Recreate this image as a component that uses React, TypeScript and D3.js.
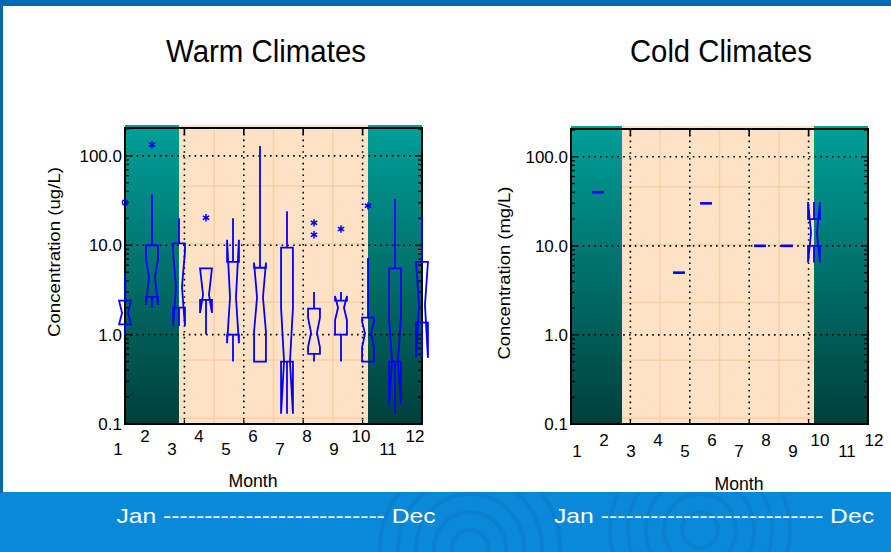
import React from 'react';
import * as d3 from 'd3';

// ---------- DATA ----------
const MONTHS = [1, 2, 3, 4, 5, 6, 7, 8, 9, 10, 11, 12];
const Y_TICKS = [0.1, 1, 10, 100];
const Y_TICK_LABELS = ['0.1', '1.0', '10.0', '100.0'];

// Warm climates (ug/L) — notched box statistics per month
const WARM_MONTHS = [1, 2, 3, 4, 5, 6, 7, 8, 9, 10, 11, 12];
const WARM_WHISKER_LO = [1.0, 2.0, 1.25, 1.0, 0.5, 0.5, 0.13, 0.5, 0.5, 0.5, 0.13, 0.55];
const WARM_Q1 = [1.3, 2.65, 2.0, 2.45, 1.0, 0.5, 0.5, 0.61, 1.0, 0.5, 0.5, 1.36];
const WARM_NOTCH_LO = [1.3, 2.15, 1.25, 1.75, 0.8, 1.08, 0.13, 0.72, 1.45, 0.72, 0.165, 0.55];
const WARM_MEDIAN = [1.75, 4.4, 3.4, 2.8, 2.6, 2.6, 0.5, 1.05, 2.0, 1.03, 0.5, 2.16];
const WARM_NOTCH_HI = [2.4, 6.9, 8.4, 5.5, 11.5, 6.4, 2.0, 1.55, 2.7, 1.4, 1.55, 6.5];
const WARM_Q3 = [2.4, 10, 10.5, 5.5, 6.5, 5.6, 9.4, 1.95, 2.4, 1.55, 5.5, 6.5];
const WARM_WHISKER_HI = [4.8, 37, 20, 5.5, 20, 129, 24, 3.0, 3.0, 7.2, 33, 21];
const WARM_OUTLIER_MONTH = [1, 2, 4, 8, 8, 9, 10];
const WARM_OUTLIER_VALUE = [30, 133, 20.3, 17.8, 13.1, 15.2, 27.6];
const WARM_OUTLIER_KIND = ['far', 'out', 'out', 'out', 'out', 'out', 'out'];
const WARM_COLD_SEASON = [[1, 3], [10, 12]];

// Cold climates (mg/L)
const COLD_MONTHS = [2, 5, 6, 8, 9, 10];
const COLD_WHISKER_LO = [40, 5.0, 30, 10, 10, 6.5];
const COLD_Q1 = [40, 5.0, 30, 10, 10, 10];
const COLD_NOTCH_LO = [40, 5.0, 30, 10, 10, 6.5];
const COLD_MEDIAN = [40, 5.0, 30, 10, 10, 14];
const COLD_NOTCH_HI = [40, 5.0, 30, 10, 10, 31];
const COLD_Q3 = [40, 5.0, 30, 10, 10, 20];
const COLD_WHISKER_HI = [40, 5.0, 30, 10, 10, 31];
const COLD_COLD_SEASON = [[1, 2.89], [10, 12]];

// ---------- STYLE / LAYOUT ----------
const FONT = "'Liberation Sans', Arial, Helvetica, sans-serif";
const BLUE = '#0000ff';

type Stat = { m: number; wlo: number; q1: number; nlo: number; med: number; nhi: number; q3: number; whi: number };

function buildStats(ms: number[], wlo: number[], q1: number[], nlo: number[], med: number[], nhi: number[], q3: number[], whi: number[]): Stat[] {
  return ms.map((m, i) => ({ m, wlo: wlo[i], q1: q1[i], nlo: nlo[i], med: med[i], nhi: nhi[i], q3: q3[i], whi: whi[i] }));
}

type PanelProps = {
  id: string;
  left: number; right: number; top: number; bottom: number;
  title: string; titleX: number; titleW: number;
  yLabel: string; yLabelX: number; yLabelY: number; yLabelW: number;
  labelOffset: number; rowUpper: number; rowLower: number;
  monthX: number; monthY: number;
  stats: Stat[];
  season: number[][];
  outliers: { m: number; v: number; kind: string }[];
};

function Panel(p: PanelProps) {
  const x = d3.scaleLinear().domain([1, 12]).range([p.left, p.right]);
  const y = d3.scaleLog().domain([0.1, 205]).range([p.bottom, p.top]);
  const bgTop = p.top - 3;
  const hw = x(1.22) - x(1);
  const gridFr = [0.2, 0.4, 0.6, 0.8];
  const gridX = gridFr.map((f) => 1 + 11 * f);
  const faintX = [0.1, 0.3, 0.5, 0.7, 0.9].map((f) => 1 + 11 * f);
  const faintY = [0.196, 0.392, 0.588, 0.784, 0.98].map((f) => p.top + f * (p.bottom - p.top));
  const minor = y.ticks(40).filter((t) => t >= 0.1 && t <= 205);
  const isMajor = (t: number) => Y_TICKS.some((m) => Math.abs(m - t) < 1e-9);
  const line = d3.line();
  const w = p.right - p.left;

  return (
    <g>
      {/* background */}
      <rect x={p.left} y={bgTop} width={w} height={p.bottom - bgTop} fill="#fde2c6" />
      <rect x={p.left} y={bgTop} width={w} height={p.bottom - bgTop} filter="url(#speckle)" />
      {faintX.map((v, i) => (
        <line key={'fx' + i} x1={x(v)} x2={x(v)} y1={p.top} y2={p.bottom} stroke="#f9cfa6" strokeWidth={1.5} />
      ))}
      {faintY.map((v, i) => (
        <line key={'fy' + i} x1={p.left} x2={p.right} y1={v} y2={v} stroke="#f9cfa6" strokeWidth={1.5} />
      ))}
      {p.season.map((s, i) => (
        <rect key={'s' + i} x={x(s[0])} y={bgTop} width={x(s[1]) - x(s[0])} height={p.bottom - bgTop} fill={`url(#teal-${p.id})`} />
      ))}
      {/* dotted grid */}
      {Y_TICKS.slice(1).map((t, i) => (
        <line key={'gy' + i} x1={p.left} x2={p.right} y1={y(t)} y2={y(t)} stroke="#000" strokeWidth={1.6} strokeDasharray="1.6,4.2" />
      ))}
      {gridX.map((v, i) => (
        <line key={'gx' + i} x1={x(v)} x2={x(v)} y1={p.top} y2={p.bottom} stroke="#000" strokeWidth={1.6} strokeDasharray="1.6,4.2" />
      ))}
      {/* ticks */}
      {minor.map((t, i) => {
        const len = isMajor(t) ? 7 : 4;
        return (
          <g key={'mt' + i}>
            <line x1={p.left} x2={p.left + len} y1={y(t)} y2={y(t)} stroke="#000" strokeWidth={1.3} />
            <line x1={p.right} x2={p.right - len} y1={y(t)} y2={y(t)} stroke="#000" strokeWidth={1.3} />
          </g>
        );
      })}
      {gridX.map((v, i) => (
        <g key={'tx' + i}>
          <line x1={x(v)} x2={x(v)} y1={p.top} y2={p.top + 7} stroke="#000" strokeWidth={1.6} />
          <line x1={x(v)} x2={x(v)} y1={p.bottom} y2={p.bottom - 4} stroke="#000" strokeWidth={1.3} />
        </g>
      ))}
      {/* frame */}
      <rect x={p.left} y={p.top} width={w} height={p.bottom - p.top} fill="none" stroke="#000" strokeWidth={2} />

      {/* boxes */}
      {p.stats.map((s, i) => {
        const cx = x(s.m);
        const L = cx - hw, R = cx + hw, Lm = cx - hw / 2, Rm = cx + hw / 2;
        const single = s.q1 === s.q3 && s.wlo === s.whi;
        if (single) {
          return <line key={'b' + i} x1={L} x2={R} y1={y(s.med)} y2={y(s.med)} stroke={BLUE} strokeWidth={2.6} />;
        }
        const pts: [number, number][] = [
          [L, y(s.q1)], [L, y(s.nlo)], [Lm, y(s.med)], [L, y(s.nhi)], [L, y(s.q3)],
          [R, y(s.q3)], [R, y(s.nhi)], [Rm, y(s.med)], [R, y(s.nlo)], [R, y(s.q1)],
        ];
        return (
          <g key={'b' + i}>
            <line x1={cx} x2={cx} y1={y(s.q3)} y2={y(s.whi)} stroke={BLUE} strokeWidth={1.8} />
            <line x1={cx} x2={cx} y1={y(s.q1)} y2={y(s.wlo)} stroke={BLUE} strokeWidth={1.8} />
            <path d={line(pts) + 'Z'} fill="none" stroke={BLUE} strokeWidth={1.8} strokeLinejoin="miter" />
          </g>
        );
      })}
      {p.outliers.map((o, i) =>
        o.kind === 'far' ? (
          <circle key={'o' + i} cx={x(o.m)} cy={y(o.v)} r={2.6} fill="none" stroke={BLUE} strokeWidth={1.3} />
        ) : (
          <path key={'o' + i} transform={`translate(${x(o.m)},${y(o.v)})`} d={d3.symbol(d3.symbolAsterisk, 38)() || ''} fill="none" stroke={BLUE} strokeWidth={1.5} />
        )
      )}

      {/* y tick labels */}
      {Y_TICKS.map((t, i) => (
        <text key={'yl' + i} x={p.left - 3} y={y(t) + 6} textAnchor="end" fontSize={17} fontFamily={FONT} fill="#000">
          {Y_TICK_LABELS[i]}
        </text>
      ))}
      {/* x tick labels */}
      {MONTHS.map((m) => (
        <text key={'xl' + m} x={x(m) + p.labelOffset} y={m % 2 === 0 ? p.rowUpper : p.rowLower} textAnchor="middle" fontSize={17} fontFamily={FONT} fill="#000">
          {String(m)}
        </text>
      ))}
      <text x={p.monthX} y={p.monthY} textAnchor="middle" fontSize={18} fontFamily={FONT} textLength={49} lengthAdjust="spacingAndGlyphs" fill="#000">Month</text>
      <text transform={`translate(${p.yLabelX},${p.yLabelY}) rotate(-90)`} textAnchor="middle" fontSize={17} fontFamily={FONT} textLength={p.yLabelW} lengthAdjust="spacingAndGlyphs" fill="#000">
        {p.yLabel}
      </text>
      <text x={p.titleX} y={62} textAnchor="middle" fontSize={31} fontFamily={FONT} textLength={p.titleW} lengthAdjust="spacingAndGlyphs" fill="#000">
        {p.title}
      </text>
    </g>
  );
}

export default function App() {
  const warmStats = buildStats(WARM_MONTHS, WARM_WHISKER_LO, WARM_Q1, WARM_NOTCH_LO, WARM_MEDIAN, WARM_NOTCH_HI, WARM_Q3, WARM_WHISKER_HI);
  const coldStats = buildStats(COLD_MONTHS, COLD_WHISKER_LO, COLD_Q1, COLD_NOTCH_LO, COLD_MEDIAN, COLD_NOTCH_HI, COLD_Q3, COLD_WHISKER_HI);
  const warmOutliers = WARM_OUTLIER_MONTH.map((m, i) => ({ m, v: WARM_OUTLIER_VALUE[i], kind: WARM_OUTLIER_KIND[i] }));
  const dashes = '---------------------------';
  const ripples = [18, 36, 54, 72, 90];

  return (
    <svg width={891} height={552} style={{ position: 'absolute', left: 0, top: 0 }} xmlns="http://www.w3.org/2000/svg">
      <defs>
        <linearGradient id="teal-warm" x1="0" y1="0" x2="0" y2="1">
          <stop offset="0" stopColor="#009f99" />
          <stop offset="1" stopColor="#003f3b" />
        </linearGradient>
        <linearGradient id="teal-cold" x1="0" y1="0" x2="0" y2="1">
          <stop offset="0" stopColor="#009f99" />
          <stop offset="1" stopColor="#003f3b" />
        </linearGradient>
        <filter id="speckle" x="0" y="0" width="100%" height="100%">
          <feTurbulence type="fractalNoise" baseFrequency="0.9" numOctaves="1" seed="3" />
          <feColorMatrix type="matrix" values="0 0 0 0 0.96  0 0 0 0 0.75  0 0 0 0 0.55  0.9 0 0 0 -0.35" />
        </filter>
        <clipPath id="bottomclip">
          <rect x={0} y={492} width={891} height={60} />
        </clipPath>
      </defs>
      {/* slide background */}
      <rect x={0} y={0} width={891} height={552} fill="#0b89d9" />
      <g clipPath="url(#bottomclip)">
        {ripples.map((r, i) => (
          <circle key={'r1' + i} cx={470} cy={548} r={r} fill="none" stroke="rgba(0,70,150,0.13)" strokeWidth={4} />
        ))}
        {ripples.map((r, i) => (
          <circle key={'r2' + i} cx={700} cy={530} r={r} fill="none" stroke="rgba(0,70,150,0.12)" strokeWidth={4} />
        ))}
      </g>
      <rect x={0} y={0} width={891} height={6} fill="#0768ae" />
      <rect x={0} y={0} width={3} height={493} fill="#0768ae" />
      <rect x={3} y={6} width={888} height={486} fill="#ffffff" />

      <Panel
        id="warm"
        left={125} right={422} top={128} bottom={424}
        title="Warm Climates" titleX={266} titleW={200}
        yLabel="Concentration (ug/L)" yLabelX={60} yLabelY={252} yLabelW={170}
        labelOffset={-7} rowUpper={442} rowLower={455}
        monthX={253} monthY={487}
        stats={warmStats} season={WARM_COLD_SEASON} outliers={warmOutliers}
      />
      <Panel
        id="cold"
        left={571} right={868} top={129} bottom={424}
        title="Cold Climates" titleX={721} titleW={182}
        yLabel="Concentration (mg/L)" yLabelX={510} yLabelY={273} yLabelW={173}
        labelOffset={6} rowUpper={446} rowLower={457}
        monthX={739} monthY={490}
        stats={coldStats} season={COLD_COLD_SEASON} outliers={[]}
      />

      <text x={276} y={523} textAnchor="middle" fontSize={21} fontFamily={FONT} fill="#fff" textLength={319} lengthAdjust="spacingAndGlyphs">
        {'Jan ' + dashes + ' Dec'}
      </text>
      <text x={714} y={523} textAnchor="middle" fontSize={21} fontFamily={FONT} fill="#fff" textLength={320} lengthAdjust="spacingAndGlyphs">
        {'Jan ' + dashes + ' Dec'}
      </text>
    </svg>
  );
}
